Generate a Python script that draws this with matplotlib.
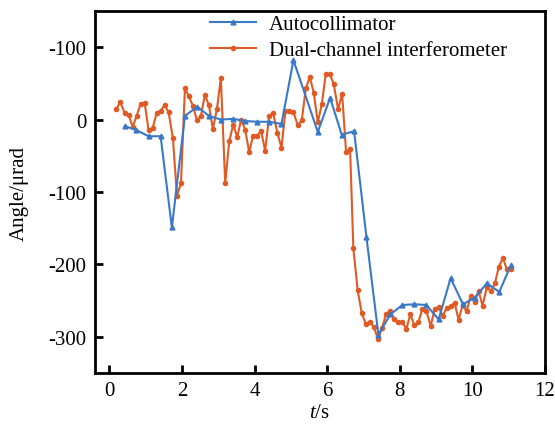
import numpy as np
import matplotlib
matplotlib.use('Agg')
import matplotlib.pyplot as plt

plt.rcParams['font.family'] = ['Liberation Serif', 'DejaVu Serif']
plt.rcParams['mathtext.fontset'] = 'custom'
plt.rcParams['mathtext.it'] = 'Liberation Serif:italic'
plt.rcParams['mathtext.rm'] = 'Liberation Serif'

# автоколлиматор
t_auto = [0.42, 0.72, 1.08, 1.41, 1.72, 2.08, 2.42, 2.74, 3.07, 3.41, 3.74, 4.07, 4.40, 4.74,
          5.07, 5.74, 6.08, 6.40, 6.74, 7.08, 7.41, 7.74, 8.07, 8.40, 8.73, 9.07, 9.40, 9.74,
          10.06, 10.40, 10.74, 11.06]
v_auto = [-9, -14, -23, -23, -149, 5, 18, 5, 0, 1, -2, -3, -3, -6,
          82, -17, 30, -21, -16, -162, -297, -269, -256, -255, -256, -276, -219, -255,
          -246, -226, -238, -201]

# двухканальный интерферометр
t_int = [0.18, 0.30, 0.42, 0.53, 0.64, 0.75, 0.86, 0.97, 1.08, 1.19, 1.30, 1.41, 1.52, 1.63,
         1.75, 1.86, 1.97, 2.08, 2.19, 2.30, 2.41, 2.52, 2.63, 2.74, 2.85, 2.96, 3.07, 3.19,
         3.30, 3.41, 3.52, 3.63, 3.74, 3.85, 3.96, 4.07, 4.18, 4.29, 4.40, 4.51, 4.63, 4.74,
         4.85, 4.96, 5.07, 5.19, 5.30, 5.41, 5.52, 5.63, 5.74, 5.85, 5.96, 6.07, 6.18, 6.30,
         6.41, 6.52, 6.63, 6.72, 6.84, 6.95, 7.06, 7.17, 7.28, 7.40, 7.51, 7.62, 7.74, 7.85,
         7.96, 8.07, 8.18, 8.29, 8.40, 8.51, 8.62, 8.73, 8.85, 8.96, 9.07, 9.18, 9.29, 9.40,
         9.51, 9.62, 9.73, 9.84, 9.95, 10.06, 10.17, 10.28, 10.40, 10.51, 10.62, 10.73, 10.84,
         10.95, 11.06]
v_int = [14, 24, 9, 6, -10, 5, 22, 23, -15, -12, 9, 12, 20, 10,
         -26, -105, -88, 43, 32, 19, -1, 5, 34, 20, -13, 14, 57, -88,
         -30, -7, -24, 0, -14, -45, -22, -22, -16, -43, 5, 9, -19, -39,
         12, 12, 10, -8, -1, 43, 59, 37, -4, 21, 63, 63, 49, 14,
         36, -45, -40, -178, -236, -267, -282, -280, -286, -303, -288, -269, -264, -276,
         -280, -280, -289, -269, -284, -280, -262, -264, -285, -262, -259, -271, -260, -258,
         -253, -277, -256, -265, -244, -252, -237, -257, -231, -237, -226, -203, -191,
         -207, -207]

x_ticks = [0, 2, 4, 6, 8, 10, 12]
y_ticks = [100, 0, -100, -200, -300]
y_ticklabels = ['-100', '0', '-100', '-200', '-300']

fig = plt.figure(figsize=(5.55, 4.27), dpi=100)
ax = fig.add_axes([0.171, 0.124, 0.811, 0.848])

ax.plot(t_auto, v_auto, color='#3a78c8', lw=1.5, marker='^', ms=3.5,
        label='Autocollimator', zorder=3)
ax.plot(t_int, v_int, color='#e05a24', lw=1.5, marker='o', ms=3,
        label='Dual-channel interferometer', zorder=2)

ax.set_xlim(-0.4, 12)
ax.set_ylim(-350, 150)
ax.set_xticks(x_ticks)
ax.set_yticks(y_ticks)
ax.set_yticklabels(y_ticklabels)
ax.tick_params(direction='in', length=6, width=2, labelsize=15, pad=6)
for s in ax.spines.values():
    s.set_linewidth(2)

ax.set_xlabel('$t$/s', fontsize=15, labelpad=2)
ax.set_ylabel('Angle/μrad', fontsize=15, labelpad=14)

ax.legend(loc='upper left', bbox_to_anchor=(0.252, 0.996), frameon=False, fontsize=15,
          borderpad=0, borderaxespad=0.1, handlelength=2.2, handletextpad=0.6,
          labelspacing=0.3)

plt.savefig('out.png', dpi=100)
